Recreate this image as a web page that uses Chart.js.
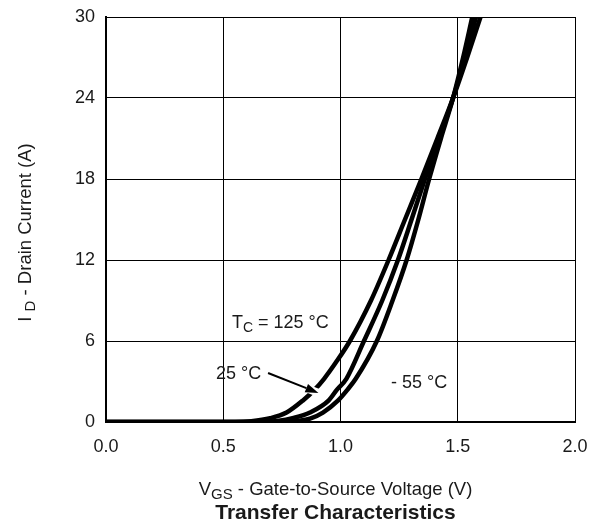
<!DOCTYPE html>
<html>
<head>
<meta charset="utf-8">
<script src="https://cdn.jsdelivr.net/npm/chart.js@4"></script>
<style>
html,body{margin:0;padding:0;background:#fff;}
#wrap{width:596px;height:527px;position:relative;}
</style>
</head>
<body>
<div id="wrap"><canvas id="c" width="596" height="527"></canvas></div>
<script>
// ---- Data ----
const vgs125 = [0, 0.55, 0.62, 0.70, 0.77, 0.84, 0.89, 0.93, 0.98, 1.04, 1.13, 1.205, 1.275, 1.345, 1.413, 1.48, 1.54, 1.597];
const id125  = [0, 0,    0.06, 0.28, 0.70, 1.6,  2.4,  3.2,  4.4,  6.0,  9.0,  12.0,  15.0,  18.0,  21.0,  24.0, 27.0, 30.0];

const vgs25  = [0, 0.66, 0.73, 0.80, 0.87, 0.95, 0.985, 1.025, 1.10, 1.178, 1.245, 1.303, 1.36, 1.42, 1.48, 1.53, 1.578];
const id25   = [0, 0,    0.08, 0.30, 0.70, 1.6,  2.4,   3.2,   6.0,  9.0,   12.0,  15.0,  18.0, 21.0, 24.0, 27.0, 30.0];

const vgsM55 = [0, 0.76, 0.82, 0.87, 0.925, 0.99, 1.03, 1.065, 1.155, 1.222, 1.282, 1.332, 1.378, 1.428, 1.48, 1.523, 1.562];
const idM55  = [0, 0,    0.08, 0.25, 0.70,  1.6,  2.4,  3.2,   6.0,   9.0,   12.0,  15.0,  18.0,  21.0,  24.0, 27.0,  30.0];

const xTicks = [0.0, 0.5, 1.0, 1.5, 2.0];
const yTicks = [0, 6, 12, 18, 24, 30];

const xTitleMain = 'V', xTitleSub = 'GS', xTitleRest = ' - Gate-to-Source Voltage (V)';
const yTitleMain = 'I ', yTitleSub = 'D', yTitleRest = ' - Drain Current (A)';
const chartTitle = 'Transfer Characteristics';

// annotation texts anchored (left, baseline) in data units (V, A)
const label125 = {main: 'T', sub: 'C', rest: ' = 125 °C', v: 0.537, i: 6.96};
const label25  = {text: '25 °C', v: 0.469, i: 3.19};
const labelM55 = {text: '- 55 °C', v: 1.215, i: 2.52};
const arrow25  = {v0: 0.691, i0: 3.63, v1: 0.906, i1: 2.15};

function pts(xs, ys){ return xs.map((x, k) => ({x: x, y: ys[k]})); }

const FONT = '"Liberation Sans", Arial, Helvetica, sans-serif';
const TXT = '#1a1a1a';

function drawSubText(ctx, x, y, main, sub, rest, size, align){
  ctx.save();
  ctx.textBaseline = 'alphabetic';
  ctx.font = size + 'px ' + FONT;
  const wMain = ctx.measureText(main).width;
  const wRest = ctx.measureText(rest).width;
  const subSize = Math.round(size * 0.8);
  ctx.font = subSize + 'px ' + FONT;
  const wSub = ctx.measureText(sub).width;
  const total = wMain + wSub + wRest;
  let sx = x;
  if (align === 'center') sx = x - total / 2;
  ctx.textAlign = 'left';
  ctx.font = size + 'px ' + FONT;
  ctx.fillText(main, sx, y);
  ctx.font = subSize + 'px ' + FONT;
  ctx.fillText(sub, sx + wMain, y + size * 0.2);
  ctx.font = size + 'px ' + FONT;
  ctx.fillText(rest, sx + wMain + wSub, y);
  ctx.restore();
}

const annot = {
  id: 'annot',
  afterDatasetsDraw(chart){
    const ctx = chart.ctx;
    const xs = chart.scales.x, ys = chart.scales.y;
    const ca = chart.chartArea;
    ctx.save();
    ctx.fillStyle = TXT;
    // curve labels
    drawSubText(ctx, xs.getPixelForValue(label125.v), ys.getPixelForValue(label125.i),
                label125.main, label125.sub, label125.rest, 18, 'left');
    ctx.font = '18px ' + FONT;
    ctx.textAlign = 'left';
    ctx.textBaseline = 'alphabetic';
    ctx.fillText(label25.text, xs.getPixelForValue(label25.v), ys.getPixelForValue(label25.i));
    ctx.fillText(labelM55.text, xs.getPixelForValue(labelM55.v), ys.getPixelForValue(labelM55.i));

    // arrow
    const x0 = xs.getPixelForValue(arrow25.v0), y0 = ys.getPixelForValue(arrow25.i0);
    const x1 = xs.getPixelForValue(arrow25.v1), y1 = ys.getPixelForValue(arrow25.i1);
    const ang = Math.atan2(y1 - y0, x1 - x0);
    const hl = 13, hw = 4.5;
    const bx = x1 - hl * Math.cos(ang), by = y1 - hl * Math.sin(ang);
    // white halo near the tip (gap in curve)
    ctx.strokeStyle = '#fff';
    ctx.lineWidth = 8;
    ctx.beginPath();
    ctx.moveTo(bx - 6 * Math.cos(ang), by - 6 * Math.sin(ang));
    ctx.lineTo(x1 + 3 * Math.cos(ang), y1 + 3 * Math.sin(ang));
    ctx.stroke();
    ctx.strokeStyle = '#000';
    ctx.lineWidth = 2;
    ctx.beginPath();
    ctx.moveTo(x0, y0);
    ctx.lineTo(bx, by);
    ctx.stroke();
    ctx.fillStyle = '#000';
    ctx.beginPath();
    ctx.moveTo(x1, y1);
    ctx.lineTo(bx + hw * Math.sin(ang), by - hw * Math.cos(ang));
    ctx.lineTo(bx - hw * Math.sin(ang), by + hw * Math.cos(ang));
    ctx.closePath();
    ctx.fill();

    // axis titles
    ctx.fillStyle = TXT;
    const cx = (ca.left + ca.right) / 2 - 5;
    drawSubText(ctx, cx, ca.bottom + 73, xTitleMain, xTitleSub, xTitleRest, 18.5, 'center');
    ctx.font = 'bold 21px ' + FONT;
    ctx.textAlign = 'center';
    ctx.textBaseline = 'alphabetic';
    ctx.fillText(chartTitle, cx, ca.bottom + 97);

    ctx.save();
    ctx.translate(ca.left - 75, (ca.top + ca.bottom) / 2 + 13);
    ctx.rotate(-Math.PI / 2);
    drawSubText(ctx, 0, 0, yTitleMain, yTitleSub, yTitleRest, 18.5, 'center');
    ctx.restore();
    ctx.restore();
  }
};

const lineStyle = {borderColor: '#000', borderWidth: 4.5, pointRadius: 0, showLine: true,
                   fill: false, cubicInterpolationMode: 'monotone'};

new Chart(document.getElementById('c'), {
  type: 'scatter',
  data: {
    datasets: [
      Object.assign({label: '125 °C', data: pts(vgs125, id125)}, lineStyle),
      Object.assign({label: '25 °C', data: pts(vgs25, id25)}, lineStyle),
      Object.assign({label: '-55 °C', data: pts(vgsM55, idM55)}, lineStyle)
    ]
  },
  options: {
    responsive: false,
    animation: false,
    devicePixelRatio: 1,
    layout: {padding: {top: 17, right: 21, left: 0, bottom: 0}},
    plugins: {legend: {display: false}, tooltip: {enabled: false}},
    scales: {
      x: {
        type: 'linear', min: 0, max: 2,
        afterBuildTicks: s => { s.ticks = xTicks.map(v => ({value: v})); },
        afterFit: s => { s.height = 105; s.paddingLeft = 0; s.paddingRight = 0; },
        ticks: {callback: v => Number(v).toFixed(1), color: TXT, padding: 14,
                font: {family: FONT, size: 18}},
        grid: {color: '#000', lineWidth: 1, drawTicks: false},
        border: {color: '#000', width: 2}
      },
      y: {
        type: 'linear', min: 0, max: 30,
        afterBuildTicks: s => { s.ticks = yTicks.map(v => ({value: v})); },
        afterFit: s => { s.width = 106; s.paddingTop = 0; s.paddingBottom = 0; },
        ticks: {color: TXT, padding: 11, font: {family: FONT, size: 18}},
        grid: {color: '#000', lineWidth: 1, drawTicks: false},
        border: {color: '#000', width: 2}
      }
    }
  },
  plugins: [annot]
});
</script>
</body>
</html>
